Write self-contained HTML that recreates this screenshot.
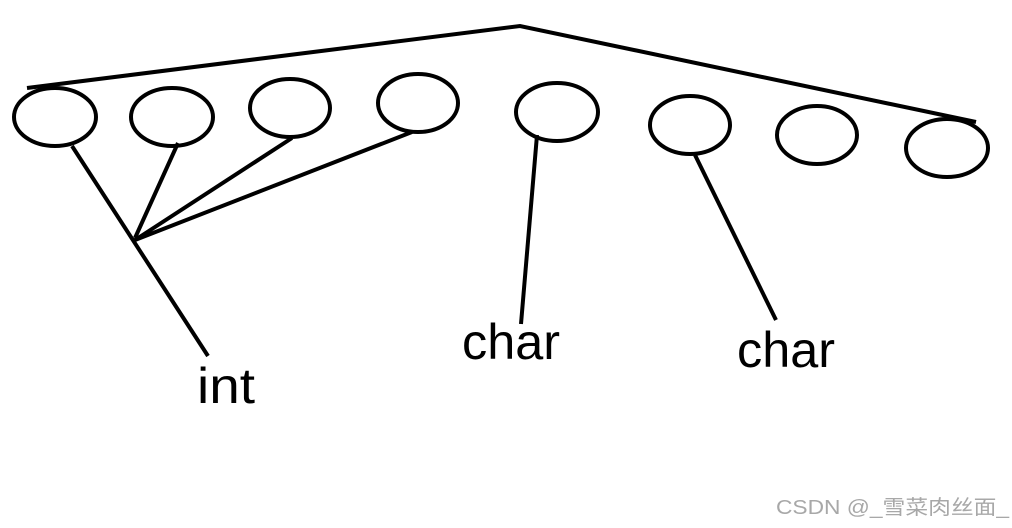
<!DOCTYPE html>
<html><head><meta charset="utf-8"><style>html,body{margin:0;padding:0;background:#fff;}svg{display:block}</style></head>
<body>
<svg width="1012" height="528" viewBox="0 0 1012 528" xmlns="http://www.w3.org/2000/svg">
<g fill="none" stroke="#000" stroke-width="4">
<polyline points="27,88 520,26 976,122"/>
<ellipse cx="55" cy="117" rx="41" ry="29"/>
<ellipse cx="172" cy="117" rx="41" ry="29"/>
<ellipse cx="290" cy="108" rx="40" ry="29"/>
<ellipse cx="418" cy="103" rx="40" ry="29"/>
<ellipse cx="557" cy="112" rx="41" ry="29"/>
<ellipse cx="690" cy="125" rx="40" ry="29"/>
<ellipse cx="817" cy="135" rx="40" ry="29"/>
<ellipse cx="947" cy="148" rx="41" ry="29"/>
<line x1="72" y1="146" x2="208" y2="356"/>
<line x1="178" y1="143" x2="135" y2="238"/>
<line x1="292" y1="138" x2="135" y2="240"/>
<line x1="412" y1="132" x2="135" y2="240"/>
<line x1="537" y1="135" x2="521" y2="324"/>
<line x1="695" y1="155" x2="776" y2="320"/>
</g>
<g font-family="Liberation Sans, DejaVu Sans, sans-serif" font-size="50" fill="#000">
<text x="197" y="403" textLength="58" lengthAdjust="spacingAndGlyphs">int</text>
<text x="462" y="359" textLength="98" lengthAdjust="spacingAndGlyphs">char</text>
<text x="737" y="367" textLength="98" lengthAdjust="spacingAndGlyphs">char</text>
</g>
<text x="776" y="514" font-family="Liberation Sans, Noto Sans CJK SC, sans-serif" font-size="20" fill="#a8a8a8" textLength="233" lengthAdjust="spacingAndGlyphs">CSDN @_雪菜肉丝面_</text>
</svg>
</body></html>
